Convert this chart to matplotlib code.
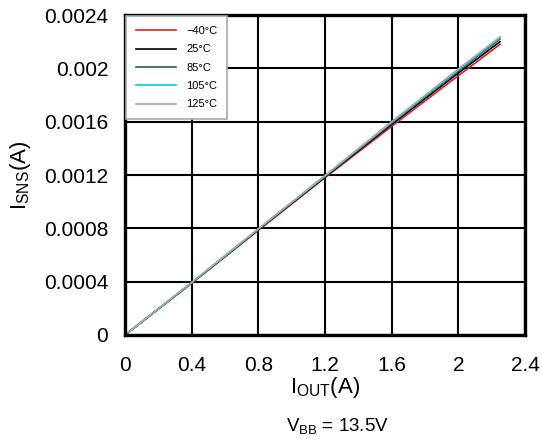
import numpy as np
import matplotlib
matplotlib.use('Agg')
import matplotlib.pyplot as plt

plt.rcParams['font.family'] = ['Liberation Sans', 'DejaVu Sans']
plt.rcParams['mathtext.fontset'] = 'custom'
plt.rcParams['mathtext.rm'] = 'Liberation Sans'

# Output current (A)
iout = [0, 0.4, 0.8, 1.2, 1.6, 2.0, 2.25]

# Sense current (A) per temperature
isns_m40 = [0, 0.000388, 0.000785, 0.00118, 0.001565, 0.001945, 0.00218]
isns_25 = [0, 0.00039, 0.00079, 0.001185, 0.00158, 0.001965, 0.0022]
isns_85 = [0, 0.000392, 0.000792, 0.00119, 0.00159, 0.00198, 0.00222]
isns_105 = [0, 0.000393, 0.000795, 0.001193, 0.001595, 0.001988, 0.00223]
isns_125 = [0, 0.000394, 0.000797, 0.001196, 0.0016, 0.001995, 0.002236]

labels = ['\u221240\u00b0C', '25\u00b0C', '85\u00b0C', '105\u00b0C', '125\u00b0C']
colors = ['#e02020', '#000000', '#1f5f6f', '#00c8e0', '#a8a8a8']
series = [isns_m40, isns_25, isns_85, isns_105, isns_125]

fig = plt.figure(figsize=(5.42, 4.43), dpi=100)
ax = fig.add_axes([0.2306, 0.2438, 0.738, 0.7223])

for ys, c, lab in zip(series, colors, labels):
    ax.plot(iout, ys, color=c, lw=1.2, label=lab)

ax.set_xlim(0, 2.4)
ax.set_ylim(0, 0.0024)
ax.set_xticks(np.arange(0, 2.41, 0.4))
ax.set_xticklabels(['0', '0.4', '0.8', '1.2', '1.6', '2', '2.4'])
ax.set_yticks(np.arange(0, 0.00241, 0.0004))
ax.set_yticklabels(['0', '0.0004', '0.0008', '0.0012', '0.0016', '0.002', '0.0024'])
ax.tick_params(axis='x', length=0, labelsize=15, pad=15)
ax.tick_params(axis='y', length=0, labelsize=15, pad=12)
ax.grid(True, color='black', lw=1.5)
ax.set_axisbelow(True)
for s in ax.spines.values():
    s.set_linewidth(2.4)

ax.set_xlabel(r'I$_{\mathregular{OUT}}$(A)', fontsize=16, labelpad=0)
ax.set_ylabel(r'I$_{\mathregular{SNS}}$(A)', fontsize=16, labelpad=8)

leg = ax.legend(loc='upper left', fontsize=8, fancybox=False, framealpha=1,
                edgecolor='#a8a8a8', borderaxespad=0.1, handlelength=3.6,
                labelspacing=0.75, borderpad=0.9, handletextpad=0.9)
leg.get_frame().set_linewidth(1.2)

fig.text(0.622, 0.025, r'V$_{\mathregular{BB}}$ = 13.5V', ha='center', fontsize=13.5)

fig.savefig('out.png', dpi=100)
